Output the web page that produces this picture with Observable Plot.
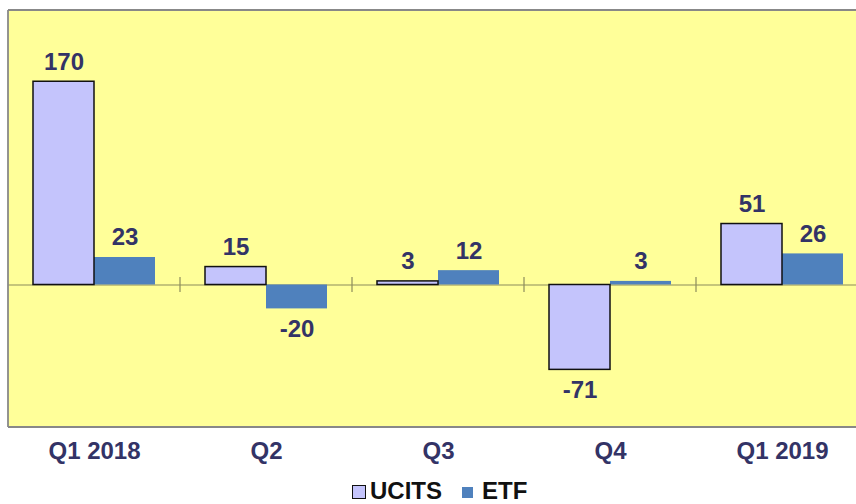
<!DOCTYPE html>
<html>
<head>
<meta charset="utf-8">
<script src="https://cdn.jsdelivr.net/npm/d3@7"></script>
<script src="https://cdn.jsdelivr.net/npm/@observablehq/plot@0.6"></script>
<style>
  html, body { margin: 0; padding: 0; background: white; overflow: hidden; }
  #wrap { position: relative; width: 856px; height: 504px; overflow: hidden; }
  #legend { position: absolute; left: 0; top: 470px; width: 856px; height: 34px;
            font-family: Arial, "Liberation Sans", sans-serif; font-weight: bold; font-size: 24px; color: #111; }
  .sw { position: absolute; box-sizing: border-box; }
  .lt { position: absolute; line-height: 1; }
</style>
</head>
<body>
<div id="wrap"><div id="chart"></div><div id="legend"></div></div>
<script>
const quarters = ["Q1 2018", "Q2", "Q3", "Q4", "Q1 2019"];
const seriesNames = ["UCITS", "ETF"];
const ucitsValues = [170, 15, 3, -71, 51];
const etfValues = [23, -20, 12, 3, 26];
const seriesColors = ["#c4c4fc", "#4f81bd"];

const data = quarters.flatMap((q, i) => [
  {quarter: q, series: "UCITS", value: ucitsValues[i]},
  {quarter: q, series: "ETF", value: etfValues[i]}
]);

const navy = "#333366";
const font = "Arial, 'Liberation Sans', sans-serif";

const plot = Plot.plot({
  width: 868,
  height: 470,
  marginLeft: 8,
  marginRight: 0,
  marginTop: 10,
  marginBottom: 43,
  style: {maxWidth: "none", background: "white", fontFamily: font, overflow: "visible"},
  fx: {domain: quarters, paddingInner: 0, paddingOuter: 0, axis: null, label: null},
  x: {domain: seriesNames, paddingInner: 0, paddingOuter: 0.4, axis: null, label: null},
  y: {domain: [-119.2, 229.6], axis: null},
  color: {domain: seriesNames, range: seriesColors},
  marks: [
    Plot.ruleY([0], {stroke: "#8c8c5c", strokeWidth: 1.2}),
    Plot.barY(data.filter(d => d.series === "ETF"), {fx: "quarter", x: "series", y: "value", fill: "series"}),
    Plot.barY(data.filter(d => d.series === "UCITS"), {fx: "quarter", x: "series", y: "value", fill: "series", stroke: "#111", strokeWidth: 1.5}),
    Plot.text(data.filter(d => d.value >= 0), {fx: "quarter", x: "series", y: "value", text: d => String(d.value),
      lineAnchor: "bottom", dy: -12, fill: navy, fontSize: 24, fontWeight: "bold"}),
    Plot.text(data.filter(d => d.value < 0), {fx: "quarter", x: "series", y: "value", text: d => String(d.value),
      lineAnchor: "bottom", dy: 28.5, fill: navy, fontSize: 24, fontWeight: "bold"}),
    Plot.text(quarters, {fx: d => d, text: d => d, frameAnchor: "bottom", lineAnchor: "bottom", dy: 31.5,
      fill: navy, fontSize: 24, fontWeight: "bold"})
  ]
});
document.getElementById("chart").appendChild(plot);

// background, border lines and category ticks drawn from the plot's own scales
const fx = plot.scale("fx"), y = plot.scale("y");
const svg = d3.select(plot);
const x0 = fx.apply(quarters[0]);
const bw = fx.bandwidth;
const xEnd = fx.apply(quarters[quarters.length - 1]) + bw;
const yTop = y.apply(y.domain[1]), yBot = y.apply(y.domain[0]), y0 = y.apply(0);

svg.insert("rect", "g")
  .attr("x", x0).attr("y", yTop).attr("width", xEnd - x0).attr("height", yBot - yTop)
  .attr("fill", "#ffff99");

const g = svg.append("g");
g.selectAll("line.b").data([yTop, yBot]).join("line").attr("class", "b")
  .attr("x1", x0).attr("x2", xEnd).attr("y1", d => d).attr("y2", d => d)
  .attr("stroke", "#888").attr("stroke-width", 1.8);
g.append("line").attr("x1", x0).attr("x2", x0).attr("y1", yTop).attr("y2", yBot)
  .attr("stroke", "#888").attr("stroke-width", 1.8);
g.selectAll("line.t").data(quarters.slice(1)).join("line").attr("class", "t")
  .attr("x1", d => fx.apply(d)).attr("x2", d => fx.apply(d))
  .attr("y1", y0 - 7.5).attr("y2", y0 + 7.5)
  .attr("stroke", "#8c8c5c").attr("stroke-width", 1.2);

// legend
const legend = d3.select("#legend");
const items = [
  {name: seriesNames[0], color: seriesColors[0], sx: 352, size: 14, border: "1.5px solid #111", tx: 370},
  {name: seriesNames[1], color: seriesColors[1], sx: 462, size: 11, border: "none", tx: 482}
];
items.forEach(it => {
  legend.append("div").attr("class", "sw")
    .style("left", it.sx + "px").style("top", (22 - it.size / 2) + "px")
    .style("width", it.size + "px").style("height", it.size + "px")
    .style("background", it.color).style("border", it.border);
  legend.append("div").attr("class", "lt")
    .style("left", it.tx + "px").style("top", "9px").text(it.name);
});
</script>
</body>
</html>
